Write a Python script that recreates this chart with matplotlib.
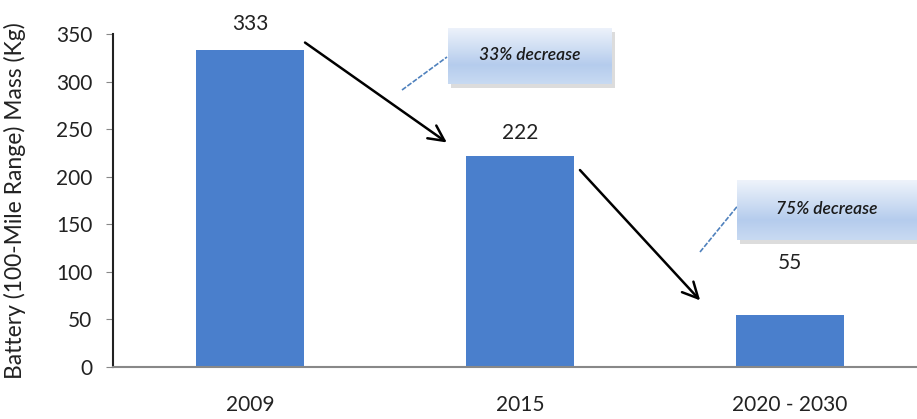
import matplotlib
matplotlib.use("Agg")
import matplotlib.pyplot as plt
import numpy as np
from matplotlib.lines import Line2D
from matplotlib.patches import Rectangle
from matplotlib.colors import LinearSegmentedColormap

categories = ["2009", "2015", "2020 - 2030"]
mass_kg = [333, 222, 55]
y_ticks = [0, 50, 100, 150, 200, 250, 300, 350]
notes = ["33% decrease", "75% decrease"]
ylabel = "Battery (100-Mile Range) Mass (Kg)"

plt.rcParams['font.family'] = ['Lato', 'DejaVu Sans']

W, H = 917, 419
fig = plt.figure(figsize=(W / 100, H / 100), dpi=100)
fig.patch.set_facecolor('white')

ax = fig.add_axes([113 / W, (H - 367) / H, (W - 113) / W, (367 - 34) / H])
x = np.arange(len(categories))
bar_color = '#4a7fcc'
ax.bar(x, mass_kg, width=0.40, color=bar_color, zorder=2)
ax.set_xlim(-0.507, 2.47)
ax.set_ylim(0, 350)
ax.set_yticks(y_ticks)
ax.set_yticklabels([str(t) for t in y_ticks], fontsize=15, color='#222222')
ax.set_xticks(x)
ax.set_xticklabels(categories, fontsize=15, color='#222222')
ax.tick_params(axis='x', length=0, pad=20)
ax.tick_params(axis='y', length=5, width=0.8, color='#888888', pad=10)
for s in ['top', 'right']:
    ax.spines[s].set_visible(False)
ax.spines['left'].set_color('#222222')
ax.spines['left'].set_linewidth(1.5)
ax.spines['bottom'].set_color('#888888')
ax.spines['bottom'].set_linewidth(1.5)
ax.set_ylabel(ylabel, fontsize=16.5, color='#222222')
ax.yaxis.set_label_coords(-0.108, 0.50)

label_offsets = [12, 9, 30]
for xi, v, off in zip(x, mass_kg, label_offsets):
    ax.annotate(str(v), (xi, v), xytext=(0, off), textcoords='offset points',
                ha='center', va='bottom', fontsize=15, color='#222222')

# trend arrows between consecutive bars
arrow_kw = dict(arrowstyle='->', color='black', lw=1.8, mutation_scale=28,
                shrinkA=0, shrinkB=0)
ax.annotate('', xy=(0.729, 236), xytext=(0.204, 341), arrowprops=arrow_kw)
ax.annotate('', xy=(1.667, 70), xytext=(1.222, 207), arrowprops=arrow_kw)

# callout boxes
grad = np.linspace(0, 1, 100).reshape(-1, 1)
cmap = LinearSegmentedColormap.from_list('bx', ['#eef3fb', '#d2e0f4', '#b5cced', '#c8daf2'])

def callout(px0, py0, px1, py1, text, line):
    sh = Rectangle(((px0 + 3) / W, (H - py1 - 4) / H), (px1 - px0) / W, (py1 - py0) / H,
                   transform=fig.transFigure, facecolor='#dcdcdc', edgecolor='none', zorder=1)
    fig.patches.append(sh)
    bax = fig.add_axes([px0 / W, (H - py1) / H, (px1 - px0) / W, (py1 - py0) / H], zorder=3)
    bax.imshow(grad, aspect='auto', cmap=cmap, extent=[0, 1, 0, 1], origin='upper')
    bax.set_axis_off()
    bax.text(0.5, 0.52, text, ha='center', va='center', fontsize=12.5, style='italic',
             fontweight='semibold', color='#1a1a1a', transform=bax.transAxes)
    (lx0, ly0), (lx1, ly1) = line
    fig.lines.append(Line2D([lx0 / W, lx1 / W], [(H - ly0) / H, (H - ly1) / H],
                            transform=fig.transFigure, color='#4f81bd', lw=1.2,
                            linestyle=(0, (3, 1))))

callout(448, 28, 612, 84, notes[0], ((402, 90), (447, 57)))
callout(737, 180, 917, 240, notes[1], ((700, 252), (740, 203)))

fig.savefig('out.png', dpi=100)
